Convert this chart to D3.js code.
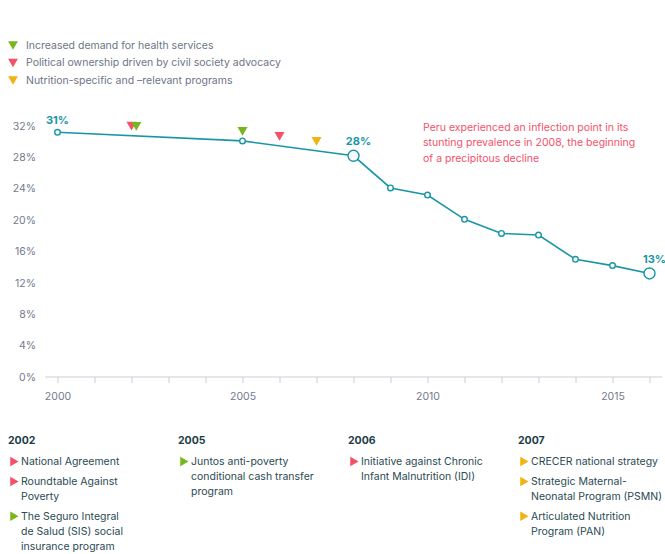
<!DOCTYPE html>
<html><head><meta charset="utf-8">
<script src="https://cdn.jsdelivr.net/npm/d3@7"></script>
<style>
html,body{margin:0;padding:0;background:#fff;}
svg{display:block;font-family:Inter, "Noto Sans", sans-serif;}
</style></head>
<body><svg id="c" width="665" height="554"></svg>
<script>
// ---- data ----
const years = [2000, 2005, 2008, 2009, 2010, 2011, 2012, 2013, 2014, 2015, 2016];
const stunting = [31.2, 30.1, 28.2, 24.1, 23.2, 20.1, 18.3, 18.1, 15.0, 14.2, 13.2];
const highlighted = [2008, 2016];
const pointLabels = [{year: 2000, text: "31%"}, {year: 2008, text: "28%"}, {year: 2016, text: "13%"}];
const yTicks = [0, 4, 8, 12, 16, 20, 24, 28, 32];
const xLabelYears = [2000, 2005, 2010, 2015];
const categories = ["health", "political", "nutrition"];
const categoryLabels = ["Increased demand for health services", "Political ownership driven by civil society advocacy", "Nutrition-specific and \u2013relevant programs"];
const categoryColors = ["#79b51c", "#f4506a", "#f2b20f"];
const markerYears = [2002, 2002.13, 2005, 2006, 2007];
const markerCats = ["political", "health", "health", "political", "nutrition"];
const annotationLines = ["Peru experienced an inflection point in its", "stunting prevalence in 2008, the beginning", "of a precipitous decline"];
const columnYears = ["2002", "2005", "2006", "2007"];
const columnItems = [
  [{cat: "political", lines: ["National Agreement"]},
   {cat: "political", lines: ["Roundtable Against", "Poverty"]},
   {cat: "health", lines: ["The Seguro Integral", "de Salud (SIS) social", "insurance program"]}],
  [{cat: "health", lines: ["Juntos anti-poverty", "conditional cash transfer", "program"]}],
  [{cat: "political", lines: ["Initiative against Chronic", "Infant Malnutrition (IDI)"]}],
  [{cat: "nutrition", lines: ["CRECER national strategy"]},
   {cat: "nutrition", lines: ["Strategic Maternal-", "Neonatal Program (PSMN)"]},
   {cat: "nutrition", lines: ["Articulated Nutrition", "Program (PAN)"]}]
];

// ---- drawing ----
const svg = d3.select("#c");
const teal = "#1996a6";
const color = d3.scaleOrdinal().domain(categories).range(categoryColors);
const x = d3.scaleLinear().domain([2000, 2016]).range([57.5, 649.5]);
const y = d3.scaleLinear().domain([0, 32]).range([377, 126]);

// legend
const leg = svg.append("g");
categories.forEach((c, i) => {
  const yy = 45 + i * 17.5;
  leg.append("path").attr("d", d3.symbol(d3.symbolTriangle, 42)())
    .attr("transform", `translate(13,${yy - 1}) rotate(180)`).attr("fill", color(c));
  leg.append("text").attr("x", 26).attr("y", yy).attr("dy", "0.35em")
    .attr("font-size", 10.5).attr("fill", "#6e7585").text(categoryLabels[i]);
});

// y axis labels
svg.append("g").selectAll("text").data(yTicks).join("text")
  .attr("x", 36).attr("y", d => y(d)).attr("dy", "0.35em").attr("text-anchor", "end")
  .attr("font-size", 10.5).attr("fill", "#737a8c").text(d => d + "%");

// x axis
const xAxis = d3.axisBottom(x).tickValues(d3.range(2000, 2017)).tickSize(6)
  .tickFormat(d => xLabelYears.includes(d) ? d : "");
const gx = svg.append("g").attr("transform", `translate(0,${y(0)})`).call(xAxis);
gx.select(".domain").remove();
gx.append("line").attr("x1", 45).attr("x2", 662).attr("stroke", "#c9ced6");
gx.selectAll(".tick line").attr("stroke", "#c9ced6");
gx.selectAll(".tick text").attr("font-size", 10.5).attr("fill", "#737a8c").attr("dy", "1.3em")
  .attr("font-family", "Inter, 'Noto Sans', sans-serif");

// line
const data = years.map((yr, i) => ({year: yr, v: stunting[i]}));
svg.append("path").datum(data)
  .attr("d", d3.line().x(d => x(d.year)).y(d => y(d.v)))
  .attr("fill", "none").attr("stroke", teal).attr("stroke-width", 1.6);
svg.append("g").selectAll("circle").data(data).join("circle")
  .attr("cx", d => x(d.year)).attr("cy", d => y(d.v))
  .attr("r", d => highlighted.includes(d.year) ? 5.5 : 2.8)
  .attr("fill", "#fff").attr("stroke", teal).attr("stroke-width", 1.4);
svg.append("g").selectAll("text").data(pointLabels).join("text")
  .attr("x", d => x(d.year) + (d.year === 2000 ? 0 : 5))
  .attr("y", d => y(stunting[years.indexOf(d.year)]) - (highlighted.includes(d.year) ? 10.5 : 8))
  .attr("text-anchor", "middle").attr("font-size", 11).attr("font-weight", 700).attr("fill", teal)
  .text(d => d.text);

// event markers
const interp = yr => {
  const i = d3.bisectRight(years, yr) - 1;
  const t = (yr - years[i]) / (years[i + 1] - years[i]);
  return stunting[i] + t * (stunting[i + 1] - stunting[i]);
};
svg.append("g").selectAll("path").data(markerYears.map((yr, i) => ({yr, cat: markerCats[i]}))).join("path")
  .attr("d", d3.symbol(d3.symbolTriangle, 44)())
  .attr("transform", d => `translate(${x(d.yr)},${y(interp(d.yr)) - 11}) rotate(180)`)
  .attr("fill", d => color(d.cat));

// annotation
svg.append("text").attr("font-size", 10.5).attr("fill", "#f4506a")
  .selectAll("tspan").data(annotationLines).join("tspan")
  .attr("x", 423).attr("y", (d, i) => 127 + i * 15.5).attr("dy", "0.35em").text(d => d);

// bottom columns
const colX = [8, 178, 348, 518];
columnYears.forEach((yr, ci) => {
  const g = svg.append("g").attr("transform", `translate(${colX[ci]},0)`);
  g.append("text").attr("x", 0).attr("y", 440).attr("dy", "0.35em")
    .attr("font-size", 10.5).attr("font-weight", 700).attr("fill", "#1c3d47").text(yr);
  let yy = 461.5;
  columnItems[ci].forEach(item => {
    g.append("path").attr("d", d3.symbol(d3.symbolTriangle, 40)())
      .attr("transform", `translate(5,${yy}) rotate(90)`).attr("fill", color(item.cat));
    item.lines.forEach((ln, li) => {
      g.append("text").attr("x", 13).attr("y", yy + li * 14.8).attr("dy", "0.35em")
        .attr("font-size", 10.5).attr("fill", "#2b4a53").text(ln);
    });
    yy += item.lines.length * 14.8 + 5.2;
  });
});
</script></body></html>
